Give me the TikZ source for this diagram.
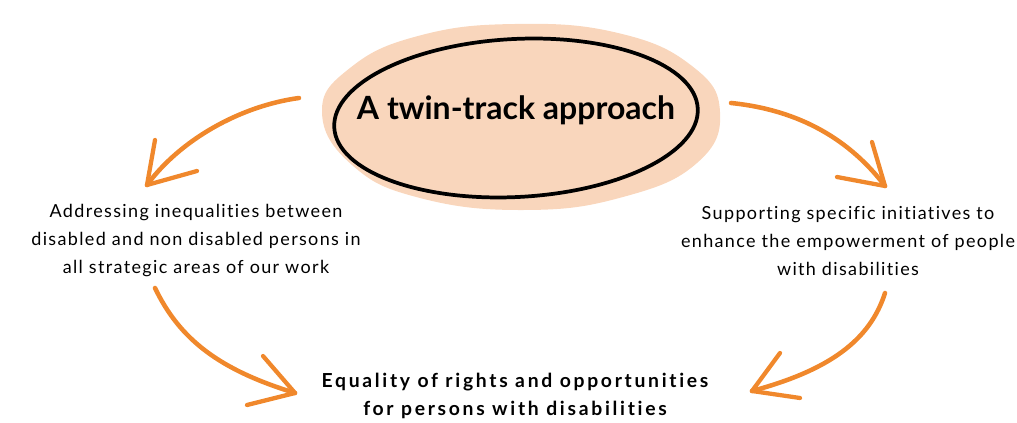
\documentclass[tikz,border=0pt]{standalone}
\usepackage{fontspec}
\setmainfont[Ligatures=NoCommon]{Lato}
\definecolor{peach}{HTML}{F9D6BC}
\definecolor{arr}{HTML}{F0882C}
\begin{document}
\begin{tikzpicture}[x=0.75pt,y=-0.75pt,
  body/.style={align=center,font=\fontsize{13.5}{21}\selectfont\addfontfeatures{LetterSpace=7.5},inner sep=0pt},
  bodyb/.style={align=center,font=\fontsize{14.5}{21}\selectfont\bfseries\addfontfeatures{LetterSpace=14},inner sep=0pt},
  orangearrow/.style={draw=arr,line width=3.4pt,line cap=round,line join=round},
  headline/.style={draw=arr,line width=3.2pt,line cap=round}]
\useasboundingbox (0,0) rectangle (1017,423);
% blob
\fill[peach] plot[smooth cycle,tension=0.75] coordinates {(322,112) (350,68) (418,36) (515,24) (618,33) (692,66) (720,112) (697,163) (623,197) (525,210) (420,198) (352,165)};
\draw[line width=2.8pt,rotate around={3:(516,118)}] (516,118) ellipse [x radius=182, y radius=79];
\node[font=\fontsize{24}{28}\selectfont\bfseries,inner sep=0pt] (title) at (516,110) {A twin-track approach};
\node[body] (left) at (196,241) {Addressing inequalities between\\disabled and non disabled persons in\\all strategic areas of our work};
\node[body] (right) at (848,241) {Supporting specific initiatives to\\enhance the empowerment of people\\with disabilities};
\node[bodyb] (bottom) at (515,396) {Equality of rights and opportunities\\for persons with disabilities};
% arrow anchor coordinates
\coordinate (a1s) at (299,98); \coordinate (a1t) at (147,185);
\coordinate (a2s) at (731,103); \coordinate (a2t) at (885,186);
\coordinate (a3s) at (155,288); \coordinate (a3t) at (295,393);
\coordinate (a4s) at (885,293); \coordinate (a4t) at (752,391);
% arrows
\draw[orangearrow] (a1s) .. controls (240,106) and (180,140) .. (a1t);
\draw[headline] (a1t) -- (155,140); \draw[headline] (a1t) -- (197,171);
\draw[orangearrow] (a2s) .. controls (800,110) and (850,140) .. (a2t);
\draw[headline] (a2t) -- (872,142); \draw[headline] (a2t) -- (837,177);
\draw[orangearrow] (a3s) .. controls (180,340) and (220,370) .. (a3t);
\draw[headline] (a3t) -- (263,356); \draw[headline] (a3t) -- (247,405);
\draw[orangearrow] (a4s) .. controls (870,340) and (830,370) .. (a4t);
\draw[headline] (a4t) -- (780,353); \draw[headline] (a4t) -- (800,398);
\end{tikzpicture}
\end{document}
